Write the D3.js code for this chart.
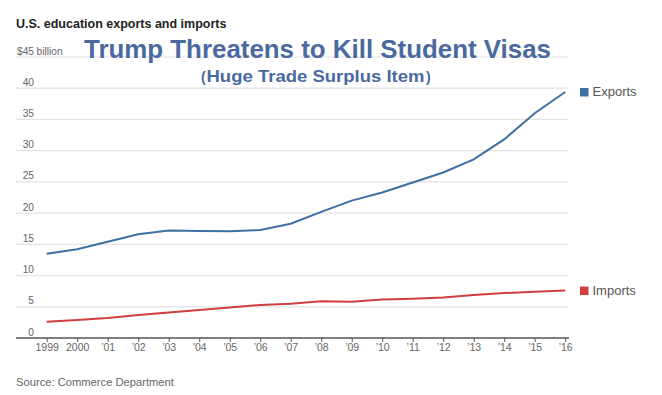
<!DOCTYPE html>
<html><head><meta charset="utf-8">
<script src="https://cdn.jsdelivr.net/npm/d3@7"></script>
<style>
html,body{margin:0;padding:0;background:#fff;}
text{font-family:"Liberation Sans",Arial,sans-serif;}
</style></head>
<body>
<svg id="chart" width="662" height="395"></svg>
<script>
const years = [1999,2000,2001,2002,2003,2004,2005,2006,2007,2008,2009,2010,2011,2012,2013,2014,2015,2016];
const yearLabels = ["1999","2000","’01","’02","’03","’04","’05","’06","’07","’08","’09","’10","’11","’12","’13","’14","’15","’16"];
const exportsVals = [13.5,14.2,15.4,16.6,17.2,17.15,17.1,17.3,18.3,20.2,22.0,23.3,24.9,26.5,28.6,31.8,36.0,39.4];
const importsVals = [2.6,2.9,3.2,3.7,4.1,4.5,4.9,5.3,5.5,5.9,5.8,6.15,6.3,6.5,6.9,7.2,7.4,7.6];
const yTicks = [0,5,10,15,20,25,30,35,40,45];
const seriesNames = ["Exports","Imports"];
const seriesColors = ["#3f6fa3","#cf3f3f"];

const svg = d3.select("#chart");
const x = d3.scaleLinear().domain([1999,2016]).range([46.7,565.2]);
const y = d3.scaleLinear().domain([0,45]).range([338,57]);

// gridlines
svg.append("g").selectAll("line").data(yTicks.filter(d=>d>0)).join("line")
  .attr("x1",16).attr("x2",568).attr("y1",d=>y(d)).attr("y2",d=>y(d))
  .attr("stroke","#e2e2e2").attr("stroke-width",1.2);

// y labels
svg.append("g").selectAll("text").data(yTicks).join("text")
  .attr("x",34).attr("y",d=>y(d)-2.5).attr("text-anchor","end")
  .attr("font-size",10.2).attr("fill","#666")
  .text(d=>d===45?"$45":d);
svg.append("text").attr("x",36.5).attr("y",y(45)-2.5).attr("font-size",10.2).attr("fill","#666").text("billion");

// x axis
const xAxis = d3.axisBottom(x).tickValues(years).tickSize(4).tickFormat((d,i)=>yearLabels[i]);
const gx = svg.append("g").attr("transform","translate(0,338)").call(xAxis);
gx.select(".domain").remove();
gx.selectAll(".tick line").attr("stroke","#555");
gx.selectAll(".tick text").attr("font-size",10.5).attr("fill","#666").attr("dy","0.6em").attr("font-family","Liberation Sans, Arial, sans-serif");
svg.append("line").attr("x1",16).attr("x2",569).attr("y1",338).attr("y2",338).attr("stroke","#555").attr("stroke-width",1.3);

// lines
const line = d3.line().x((d,i)=>x(years[i])).y(d=>y(d));
[exportsVals, importsVals].forEach((vals,k)=>{
  svg.append("path").datum(vals).attr("d",line).attr("fill","none")
    .attr("stroke",seriesColors[k]).attr("stroke-width",2);
});

// legend
const legendVals = [exportsVals[exportsVals.length-1], importsVals[importsVals.length-1]];
seriesNames.forEach((n,k)=>{
  const yy = y(legendVals[k]);
  svg.append("rect").attr("x",580).attr("y",yy-4).attr("width",8.5).attr("height",8.5).attr("fill",seriesColors[k]);
  svg.append("text").attr("x",592.5).attr("y",yy+4.5).attr("font-size",13).attr("fill","#555").text(n);
});

// titles
svg.append("text").attr("x",16).attr("y",28.3).attr("font-size",12.5).attr("font-weight","bold").attr("fill","#222")
  .text("U.S. education exports and imports");
svg.append("text").attr("x",84).attr("y",58).attr("font-size",26).attr("font-weight","bold").attr("fill","#4a6a9f")
  .attr("font-family","Liberation Sans, Arial, sans-serif")
  .attr("textLength",467).attr("lengthAdjust","spacingAndGlyphs")
  .text("Trump Threatens to Kill Student Visas");
const sub = svg.append("text").attr("y",81.5).attr("fill","#4a6a9f");
sub.append("tspan").attr("x",201).attr("font-size",14).attr("font-weight","bold").text("(");
sub.append("tspan").attr("x",206.5).attr("font-size",16.5).attr("font-weight","bold")
  .attr("textLength",218).attr("lengthAdjust","spacingAndGlyphs").text("Huge Trade Surplus Item");
sub.append("tspan").attr("x",426).attr("font-size",14).attr("font-weight","bold").text(")");

svg.append("text").attr("x",16).attr("y",385.5).attr("font-size",11.2).attr("fill","#666").text("Source: Commerce Department");
</script>
</body></html>
